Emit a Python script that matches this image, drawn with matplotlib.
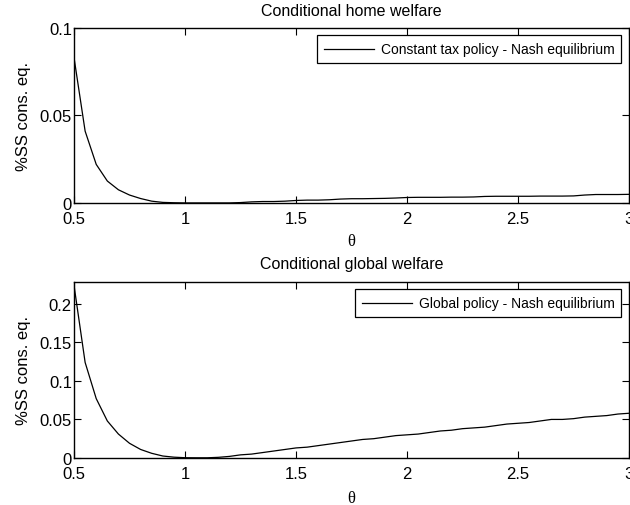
import matplotlib
matplotlib.use('Agg')
import matplotlib.pyplot as plt
from matplotlib.ticker import FormatStrFormatter

plt.rcParams['font.family'] = ['Liberation Sans', 'DejaVu Sans']
plt.rcParams['font.size'] = 12

# theta grid
theta = [0.50, 0.55, 0.60, 0.65, 0.70, 0.75, 0.80, 0.85, 0.90, 0.95,
         1.00, 1.05, 1.10, 1.15, 1.20, 1.25, 1.30, 1.35, 1.40, 1.45,
         1.50, 1.55, 1.60, 1.65, 1.70, 1.75, 1.80, 1.85, 1.90, 1.95,
         2.00, 2.05, 2.10, 2.15, 2.20, 2.25, 2.30, 2.35, 2.40, 2.45,
         2.50, 2.55, 2.60, 2.65, 2.70, 2.75, 2.80, 2.85, 2.90, 2.95,
         3.00]

# conditional home welfare, constant tax policy vs Nash
home_welfare = [0.083, 0.041, 0.022, 0.0125, 0.0075, 0.0045, 0.0025, 0.001, 0.0003, 0.0001,
                0.0, 0.0, 0.0, 0.0, 0.0, 0.0002, 0.0006, 0.0008, 0.0008, 0.001,
                0.0014, 0.0016, 0.0016, 0.0018, 0.0022, 0.0024, 0.0024, 0.0025, 0.0026, 0.0028,
                0.0031, 0.0032, 0.0032, 0.0032, 0.0033, 0.0033, 0.0034, 0.0037, 0.0038, 0.0038,
                0.0038, 0.0038, 0.0039, 0.0039, 0.0039, 0.004, 0.0045, 0.0048, 0.0048, 0.0048,
                0.0049]

# conditional global welfare, global policy vs Nash
global_welfare = [0.224, 0.124, 0.077, 0.048, 0.031, 0.019, 0.011, 0.006, 0.0025, 0.001,
                  0.0003, 0.0002, 0.0002, 0.0008, 0.002, 0.004, 0.005, 0.007, 0.009, 0.011,
                  0.013, 0.014, 0.016, 0.018, 0.020, 0.022, 0.024, 0.025, 0.027, 0.029,
                  0.030, 0.031, 0.033, 0.035, 0.036, 0.038, 0.039, 0.040, 0.042, 0.044,
                  0.045, 0.046, 0.048, 0.050, 0.050, 0.051, 0.053, 0.054, 0.055, 0.057,
                  0.058]

fig = plt.figure(figsize=(6.3, 5.06), dpi=100)
ax1 = fig.add_axes([0.1175, 0.597, 0.881, 0.346])
ax2 = fig.add_axes([0.1175, 0.093, 0.881, 0.348])


def style_axes(ax, y, title, title_pad, xlabel_pad, yticks, ymax, label):
    ax.plot(theta, y, color='black', linewidth=0.9, label=label)
    ax.set_xlim(0.5, 3)
    ax.set_ylim(0, ymax)
    ax.set_xticks([0.5, 1, 1.5, 2, 2.5, 3])
    ax.set_yticks(yticks)
    ax.xaxis.set_major_formatter(FormatStrFormatter('%g'))
    ax.yaxis.set_major_formatter(FormatStrFormatter('%g'))
    ax.tick_params(direction='in', top=True, right=True, length=5, width=0.8)
    ax.tick_params(axis='x', pad=5.5)
    ax.tick_params(axis='y', pad=1.5)
    for s in ax.spines.values():
        s.set_linewidth(1.0)
    ax.set_title(title, fontsize=11.5, pad=title_pad)
    ax.set_xlabel('θ', family=['Liberation Serif', 'DejaVu Serif'], fontsize=12,
                  labelpad=xlabel_pad)
    ax.set_ylabel('%SS cons. eq.', labelpad=6)
    leg = ax.legend(loc='upper right', fontsize=10, handlelength=3.6, handletextpad=0.5,
                    borderpad=0.5, fancybox=False, edgecolor='black', framealpha=1,
                    borderaxespad=0.55)
    leg.get_frame().set_linewidth(0.9)


style_axes(ax1, home_welfare, 'Conditional home welfare', 9, 5.5, [0, 0.05, 0.1], 0.1,
           'Constant tax policy - Nash equilibrium')
style_axes(ax2, global_welfare, 'Conditional global welfare', 10, 6.5,
           [0, 0.05, 0.1, 0.15, 0.2], 0.2286, 'Global policy - Nash equilibrium')

fig.savefig('out.png', dpi=100)
